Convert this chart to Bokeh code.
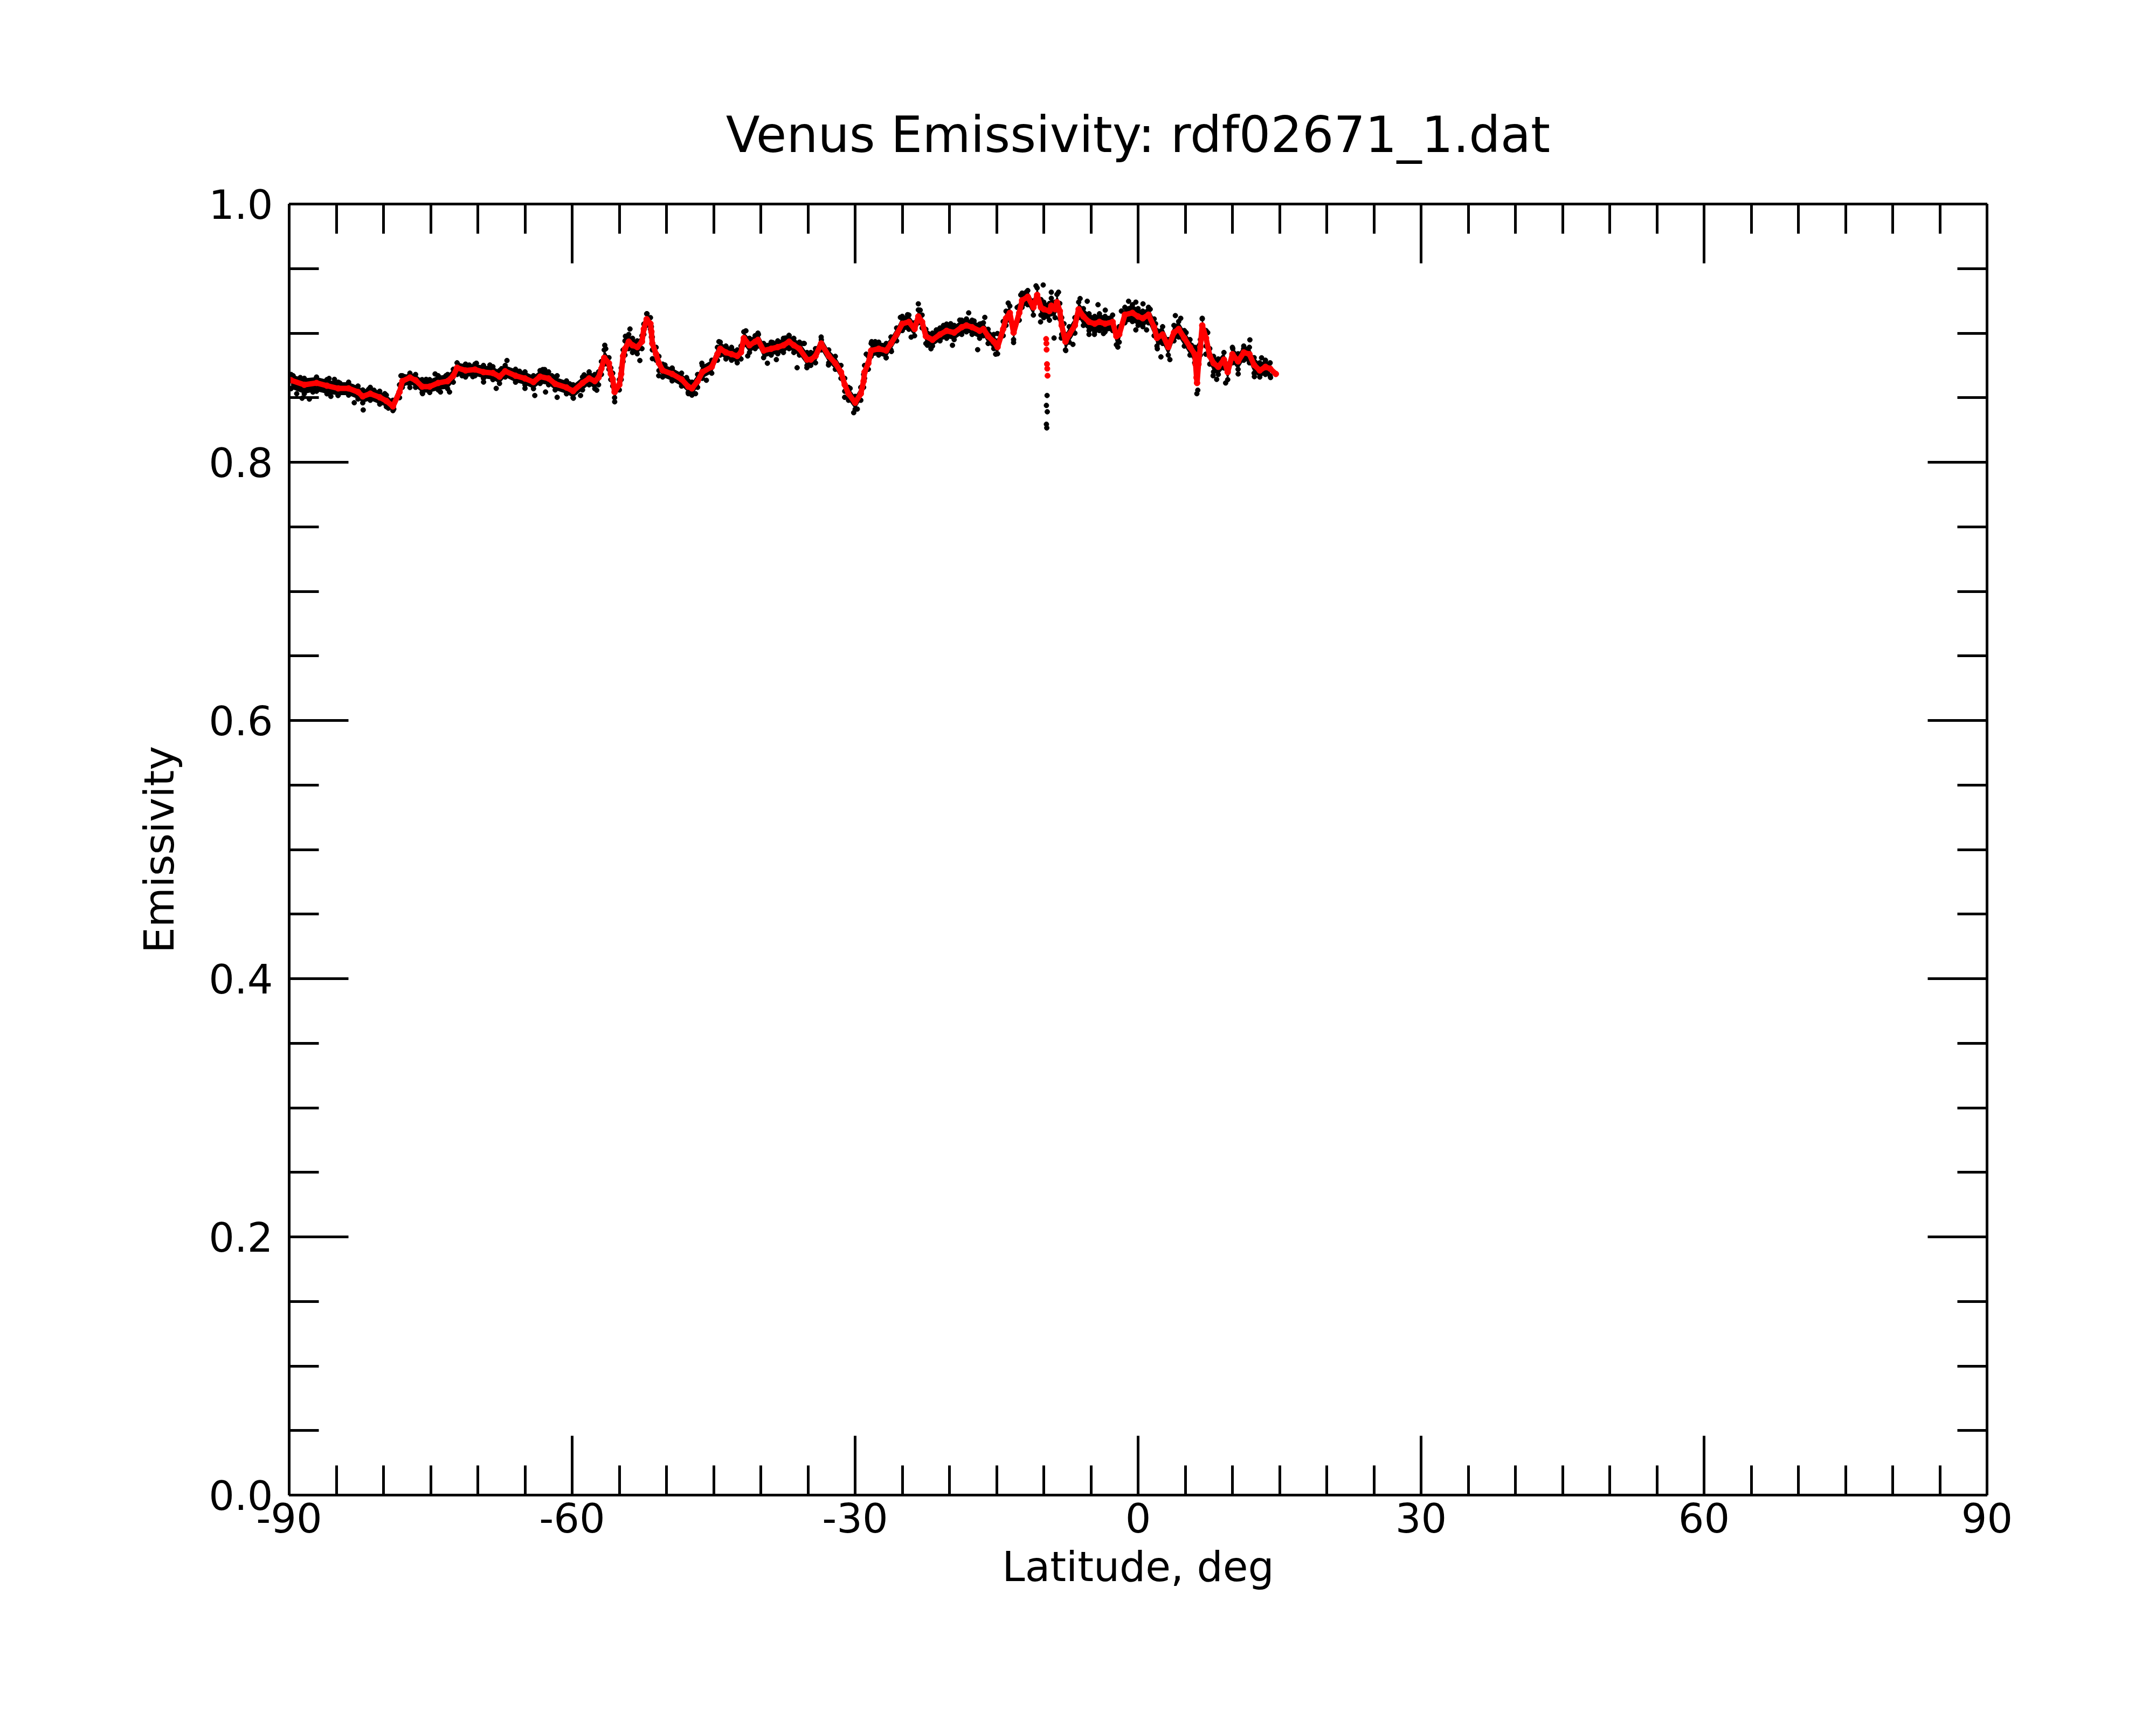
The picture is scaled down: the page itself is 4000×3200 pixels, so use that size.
from bokeh.plotting import figure
from bokeh.models import Range1d, LinearAxis, SingleIntervalTicker, PrintfTickFormatter, CustomJSTickFormatter
from bokeh.embed import file_html
from bokeh.resources import INLINE

# ---------------- data ----------------
# smoothed emissivity (red)
red_lat = [-89.8,-88.4,-87.1,-86.0,-84.8,-83.7,-82.7,-82.2,-81.4,-80.4,-79.7,-79.0,-78.3,-78.0,-77.2,
           -76.6,-75.9,-75.1,-74.2,-73.2,-72.6,-72.2,-71.3,-70.3,-69.4,-68.4,-67.7,-67.1,-66.0,-65.0,
           -64.1,-63.4,-62.5,-61.8,-60.6,-59.9,-58.9,-58.2,-57.6,-57.2,-56.9,-56.6,-56.1,-55.9,-55.7,
           -55.5,-55.0,-54.8,-54.6,-54.4,-54.0,-53.6,-53.1,-52.6,-52.4,-52.1,-51.7,-51.6,-51.5,-51.1,
           -50.8,-50.4,-49.4,-48.4,-47.7,-47.3,-46.7,-46.2,-45.2,-44.6,-44.3,-43.7,-43.1,-42.5,-42.1,
           -41.8,-41.2,-40.6,-40.3,-39.7,-38.9,-38.2,-37.6,-37.0,-36.5,-35.9,-35.1,-34.7,-34.2,-33.6,
           -32.8,-32.1,-31.5,-31.1,-30.7,-30.0,-29.4,-29.1,-29.0,-28.6,-28.3,-27.5,-26.7,-26.2,-25.6,
           -25.0,-24.3,-23.7,-23.3,-22.9,-22.5,-21.8,-21.0,-20.3,-19.5,-18.7,-18.2,-17.6,-16.8,-16.4,
           -15.9,-15.3,-14.9,-14.3,-14.0,-13.6,-13.2,-12.6,-12.3,-11.7,-11.1,-10.7,-10.3,-10.0,-9.4,
           -9.2,-8.8,-8.6,-8.3,-8.1,-7.7,-7.3,-6.7,-6.3,-5.8,-5.2,-4.6,-4.1,-3.5,-2.7,
           -2.3,-2.0,-1.4,-0.6,0.0,0.5,1.1,1.7,2.0,2.6,3.2,3.8,4.3,4.9,5.5,
           6.0,6.1,6.2,6.25,6.4,6.6,6.8,7.2,7.6,8.0,8.5,9.1,9.5,10.0,10.6,
           11.2,11.8,12.3,12.9,13.5,14.0,14.6]
red_val = [0.8635,0.8600,0.8614,0.8593,0.8572,0.8572,0.8544,0.8510,0.8531,0.8503,0.8475,0.8433,0.8544,0.8628,0.8656,
           0.8635,0.8586,0.8586,0.8614,0.8628,0.8670,0.8732,0.8711,0.8718,0.8698,0.8691,0.8663,0.8705,0.8670,0.8649,
           0.8621,0.8663,0.8649,0.8607,0.8579,0.8551,0.8614,0.8649,0.8628,0.8656,0.8725,0.8809,0.8767,0.8684,0.8642,
           0.8544,0.8600,0.8684,0.8823,0.8879,0.8934,0.8906,0.8892,0.8934,0.9032,0.9108,0.9073,0.9011,0.8920,0.8837,
           0.8767,0.8711,0.8684,0.8642,0.8586,0.8572,0.8628,0.8698,0.8739,0.8837,0.8879,0.8851,0.8837,0.8823,0.8851,
           0.8962,0.8906,0.8934,0.8948,0.8865,0.8879,0.8892,0.8906,0.8934,0.8906,0.8879,0.8795,0.8795,0.8823,0.8920,
           0.8823,0.8767,0.8698,0.8600,0.8531,0.8461,0.8531,0.8628,0.8698,0.8767,0.8865,0.8879,0.8865,0.8920,0.8990,
           0.9073,0.9087,0.9032,0.9129,0.9087,0.8976,0.8948,0.8990,0.9018,0.9004,0.9046,0.9060,0.9046,0.9018,0.9032,
           0.8976,0.8934,0.8892,0.9032,0.9115,0.9157,0.9004,0.9157,0.9254,0.9282,0.9199,0.9296,0.9199,0.9185,0.9171,
           0.9213,0.9185,0.9240,0.9171,0.9060,0.8934,0.8990,0.9060,0.9185,0.9129,0.9087,0.9073,0.9087,0.9073,0.9087,
           0.8976,0.8990,0.9143,0.9157,0.9129,0.9115,0.9143,0.9046,0.8962,0.8990,0.8892,0.9004,0.9032,0.8962,0.8892,
           0.8837,0.8760,0.8656,0.8614,0.8760,0.8892,0.9060,0.8962,0.8823,0.8767,0.8739,0.8795,0.8698,0.8837,0.8781,
           0.8851,0.8837,0.8753,0.8711,0.8739,0.8725,0.8684]

# isolated red points of the drop near -10 deg
red_dip_lat = [-9.75, -9.72, -9.70, -9.66, -9.63, -9.60]
red_dip_val = [0.8955, 0.8920, 0.8872, 0.8760, 0.8725, 0.8670]

# raw emissivity (black): upper and lower edges of the dense band
band_lat = [-89.8,-88.4,-87.1,-86.0,-84.8,-83.7,-82.7,-82.2,-81.4,-80.4,-79.7,-79.0,-78.3,-78.0,-77.2,
            -76.6,-75.9,-75.1,-74.2,-73.2,-72.6,-72.2,-71.3,-70.3,-69.4,-68.4,-67.7,-67.1,-66.0,-65.0,
            -64.1,-63.4,-62.5,-61.8,-60.6,-59.9,-58.9,-58.2,-57.6,-57.2,-56.9,-56.6,-56.1,-55.9,-55.7,
            -55.5,-55.0,-54.8,-54.6,-54.4,-54.0,-53.6,-53.1,-52.6,-52.4,-52.1,-51.7,-51.6,-51.5,-51.1,
            -50.8,-50.4,-49.4,-48.4,-47.7,-47.3,-46.7,-46.2,-45.2,-44.6,-44.3,-43.7,-43.1,-42.5,-42.1,
            -41.8,-41.2,-40.6,-40.3,-39.7,-38.9,-38.2,-37.6,-37.0,-36.5,-35.9,-35.1,-34.7,-34.2,-33.6,
            -32.8,-32.1,-31.5,-31.1,-30.7,-30.0,-29.4,-29.1,-29.0,-28.6,-28.3,-27.5,-26.7,-26.2,-25.6,
            -25.0,-24.3,-23.7,-23.3,-22.9,-22.5,-21.8,-21.0,-20.3,-19.5,-18.7,-18.2,-17.6,-16.8,-16.4,
            -15.9,-15.3,-14.9,-14.3,-14.0,-13.6,-13.2,-12.6,-12.3,-11.7,-11.1,-10.7,-10.3,-10.0,-9.4,
            -9.2,-8.8,-8.6,-8.3,-8.1,-7.7,-7.3,-6.7,-6.3,-5.8,-5.2,-4.6,-4.1,-3.5,-2.7,
            -2.3,-2.0,-1.4,-0.6,0.0,0.5,1.1,1.7,2.0,2.6,3.2,3.8,4.3,4.9,5.5,
            6.0,6.6,6.8,7.2,7.6,8.0,8.5,9.1,9.5,10.0,10.6,11.2,11.8,12.3,12.9,
            13.5,14.0]
band_hi = [0.868,0.865,0.866,0.864,0.862,0.862,0.859,0.856,0.858,0.855,0.852,0.848,0.860,0.867,0.869,
           0.868,0.864,0.864,0.867,0.868,0.872,0.877,0.876,0.876,0.875,0.874,0.871,0.875,0.872,0.870,
           0.867,0.871,0.870,0.866,0.863,0.860,0.866,0.870,0.868,0.870,0.878,0.887,0.881,0.873,0.869,
           0.858,0.864,0.873,0.887,0.894,0.899,0.896,0.894,0.898,0.907,0.915,0.912,0.905,0.897,0.889,
           0.882,0.876,0.873,0.869,0.863,0.862,0.868,0.875,0.879,0.889,0.893,0.890,0.889,0.887,0.890,
           0.901,0.896,0.898,0.900,0.892,0.893,0.894,0.896,0.898,0.896,0.893,0.885,0.885,0.888,0.897,
           0.887,0.882,0.875,0.865,0.858,0.851,0.858,0.868,0.875,0.882,0.892,0.893,0.892,0.897,0.904,
           0.913,0.914,0.908,0.918,0.914,0.903,0.900,0.904,0.907,0.906,0.910,0.911,0.910,0.907,0.908,
           0.903,0.899,0.894,0.909,0.917,0.921,0.906,0.921,0.931,0.933,0.925,0.935,0.926,0.924,0.923,
           0.927,0.924,0.930,0.923,0.912,0.899,0.905,0.912,0.924,0.919,0.915,0.913,0.915,0.913,0.914,
           0.903,0.905,0.920,0.922,0.919,0.917,0.920,0.911,0.902,0.905,0.895,0.906,0.909,0.902,0.895,
           0.889,0.895,0.911,0.902,0.888,0.882,0.880,0.885,0.876,0.889,0.884,0.890,0.889,0.881,0.877,
           0.879,0.877]
band_lo = [0.857,0.853,0.855,0.853,0.852,0.852,0.849,0.846,0.848,0.845,0.843,0.840,0.850,0.858,0.861,
           0.858,0.854,0.854,0.856,0.857,0.862,0.868,0.866,0.867,0.865,0.864,0.861,0.866,0.862,0.860,
           0.857,0.861,0.860,0.856,0.853,0.850,0.856,0.860,0.857,0.860,0.868,0.876,0.872,0.864,0.859,
           0.850,0.856,0.864,0.878,0.883,0.888,0.885,0.884,0.888,0.899,0.906,0.903,0.897,0.887,0.879,
           0.871,0.866,0.863,0.859,0.854,0.852,0.858,0.865,0.869,0.879,0.883,0.880,0.879,0.877,0.880,
           0.891,0.885,0.888,0.890,0.881,0.883,0.884,0.885,0.888,0.885,0.883,0.875,0.875,0.877,0.887,
           0.877,0.872,0.865,0.855,0.848,0.841,0.848,0.858,0.865,0.872,0.882,0.883,0.881,0.887,0.894,
           0.902,0.903,0.898,0.908,0.904,0.892,0.890,0.894,0.896,0.895,0.899,0.901,0.899,0.896,0.898,
           0.892,0.888,0.884,0.898,0.906,0.910,0.895,0.910,0.920,0.922,0.914,0.924,0.914,0.912,0.910,
           0.915,0.912,0.918,0.911,0.899,0.887,0.893,0.900,0.912,0.906,0.902,0.901,0.902,0.901,0.902,
           0.891,0.893,0.908,0.909,0.906,0.905,0.908,0.898,0.890,0.892,0.883,0.894,0.897,0.890,0.883,
           0.877,0.883,0.900,0.890,0.876,0.870,0.868,0.873,0.864,0.877,0.872,0.879,0.877,0.869,0.866,
           0.868,0.867]

# raw emissivity (black): scattered points away from the band
out_lat = [-89.58,-89.20,-88.82,-88.63,-87.86,-87.48,-87.10,-85.77,-85.58,-85.20,-84.82,-84.63,-83.86,-83.29,-83.10,
           -82.72,-82.15,-81.58,-81.01,-80.43,-79.86,-79.48,-78.91,-78.15,-77.77,-77.39,-77.20,-76.05,-75.86,-75.48,
           -74.53,-73.96,-73.39,-73.00,-72.05,-71.67,-70.91,-70.53,-70.15,-69.39,-68.72,-68.05,-67.48,-66.91,-65.96,
           -65.58,-65.00,-63.96,-62.91,-62.82,-62.15,
           -63.11,-61.59,-61.59,-60.25,-59.87,-59.11,-58.73,-57.39,-56.54,-56.44,-55.49,-54.35,-53.87,-52.82,-52.06,
           -51.49,-50.82,-50.16,-49.39,-47.87,-47.68,-46.92,-46.25,-45.77,-44.44,-43.68,-41.58,-41.39,-40.25,-39.30,
           -38.73,-38.35,-37.39,-37.01,-36.15,-35.49,-35.11,
           -35.39,-33.58,-32.82,-31.11,-30.53,-30.15,-29.77,-28.82,-28.25,-27.87,-26.72,-26.15,-25.20,-24.44,-24.06,
           -23.30,-23.10,-22.34,-21.96,-21.39,-20.63,-19.87,-19.68,-18.91,-17.96,-17.39,-17.01,-16.63,-16.25,-15.10,
           -14.91,-13.77,-13.20,-12.82,-12.44,-11.87,-10.82,-10.34,-10.06,-9.20,-8.91,-8.44,
           -9.65,-9.72,-9.63,-9.72,-9.68,
           -8.15,-7.86,-7.67,-6.91,-6.15,-5.39,-4.25,-5.20,-4.63,-3.48,-3.67,-2.15,-1.77,-1.01,-0.24,
           0.52,-0.24,0.90,1.28,1.85,2.04,2.42,3.37,3.95,4.52,5.09,5.66,6.23,6.33,6.80,
           7.38,7.18,7.95,8.33,9.28,10.04,10.61,11.85,11.19,12.33,13.09,13.85,14.04]
out_val = [0.8670,0.8531,0.8656,0.8496,0.8489,0.8544,0.8649,0.8649,0.8510,0.8642,0.8517,0.8614,0.8600,0.8586,0.8461,
           0.8572,0.8405,0.8565,0.8558,0.8496,0.8531,0.8419,0.8412,0.8670,0.8663,0.8614,0.8579,0.8635,0.8531,0.8642,
           0.8684,0.8544,0.8670,0.8544,0.8753,0.8670,0.8753,0.8663,0.8767,0.8621,0.8753,0.8572,0.8725,0.8788,0.8628,
           0.8705,0.8572,0.8517,0.8718,0.8544,0.8670,
           0.8718,0.8670,0.8503,0.8607,0.8496,0.8517,0.8677,0.8558,0.8906,0.8879,0.8468,0.8976,0.9032,0.8788,0.9150,
           0.8802,0.8670,0.8753,0.8725,0.8656,0.8531,0.8531,0.8767,0.8635,0.8934,0.8892,0.9018,0.8823,0.8990,0.8767,
           0.8927,0.8795,0.8962,0.8983,0.8732,0.8920,0.8732,
           0.8920,0.8948,0.8753,0.8503,0.8572,0.8384,0.8412,0.8837,0.8934,0.8934,0.8809,0.8858,0.9122,0.9143,0.8969,
           0.9227,0.9178,0.8906,0.8879,0.9025,0.9060,0.9073,0.8906,0.9101,0.9157,0.9094,0.8872,0.9073,0.9122,0.8837,
           0.8997,0.9233,0.8927,0.9199,0.9296,0.9317,0.9366,0.9087,0.9373,0.9317,0.8962,0.9317,
           0.8517,0.8440,0.8391,0.8294,0.8266,
           0.8962,0.9073,0.8865,0.8913,0.9268,0.9247,0.9220,0.8990,0.8990,0.9178,0.8997,0.8892,0.9171,0.9247,0.9240,
           0.9227,0.9025,0.9025,0.9185,0.9073,0.8879,0.8816,0.8795,0.9136,0.9115,0.9004,0.8906,0.8531,0.8558,0.9115,
           0.9004,0.8837,0.8670,0.8642,0.8614,0.8879,0.8684,0.8948,0.8879,0.8663,0.8809,0.8753,0.8656]

x_ticks_interval = 30
y_ticks_interval = 0.2
title_text = "Venus Emissivity: rdf02671_1.dat"
x_label = "Latitude, deg"
y_label = "Emissivity"

# ---------------- figure ----------------
FONT = "DejaVu Sans"
p = figure(width=3984, height=3184, output_backend="svg", toolbar_location=None,
           x_range=Range1d(-90, 90), y_range=Range1d(0, 1),
           x_axis_type=None, y_axis_type=None,
           min_border_left=536, min_border_right=298,
           min_border_top=378, min_border_bottom=411,
           title=title_text)
p.outline_line_color = None
p.background_fill_color = "white"
p.border_fill_color = "white"
p.title.text_font = FONT
p.title.text_font_size = "92px"
p.title.text_font_style = "normal"
p.title.text_color = "black"
p.title.align = "center"
p.title.standoff = 150


def make_axis(kind, labels):
    if kind == "x":
        ticker = SingleIntervalTicker(interval=x_ticks_interval, num_minor_ticks=6)
        fmt = PrintfTickFormatter(format="%d")
    else:
        ticker = SingleIntervalTicker(interval=y_ticks_interval, num_minor_ticks=4)
        fmt = PrintfTickFormatter(format="%.1f")
    if not labels:
        fmt = CustomJSTickFormatter(code="return ''")
    ax = LinearAxis(ticker=ticker, formatter=fmt)
    ax.major_tick_in = 110
    ax.major_tick_out = 0
    ax.minor_tick_in = 55
    ax.minor_tick_out = 0
    ax.axis_line_width = 5
    ax.major_tick_line_width = 5
    ax.minor_tick_line_width = 5
    ax.axis_line_color = "black"
    ax.major_tick_line_color = "black"
    ax.minor_tick_line_color = "black"
    ax.major_label_text_font = FONT
    ax.major_label_text_color = "black"
    ax.major_label_text_font_size = "75px"
    ax.axis_label_text_font = FONT
    ax.axis_label_text_font_style = "normal"
    ax.axis_label_text_color = "black"
    ax.axis_label_text_font_size = "76px"
    if not labels:
        ax.major_label_standoff = 0
    return ax


xb = make_axis("x", True)
xb.axis_label = x_label
xb.major_label_standoff = 14
xb.axis_label_standoff = 16
p.add_layout(xb, "below")

yl = make_axis("y", True)
yl.axis_label = y_label
yl.major_label_standoff = 30
yl.axis_label_standoff = 44
p.add_layout(yl, "left")

p.add_layout(make_axis("x", False), "above")
p.add_layout(make_axis("y", False), "right")

# raw data (black): dense band between its edges, edge points, scattered points
p.varea(x=band_lat, y1=band_lo, y2=band_hi, color="black")
p.scatter(band_lat, band_hi, size=9, color="black")
p.scatter(band_lat, band_lo, size=9, color="black")
p.scatter(out_lat, out_val, size=9, color="black")

# smoothed data (red)
p.line(red_lat, red_val, line_width=10, color="red", line_join="round", line_cap="round")
p.scatter(red_lat, red_val, size=11, color="red")
p.scatter(red_dip_lat, red_dip_val, size=10, color="red")

open("out.html", "w").write(file_html(p, INLINE))
